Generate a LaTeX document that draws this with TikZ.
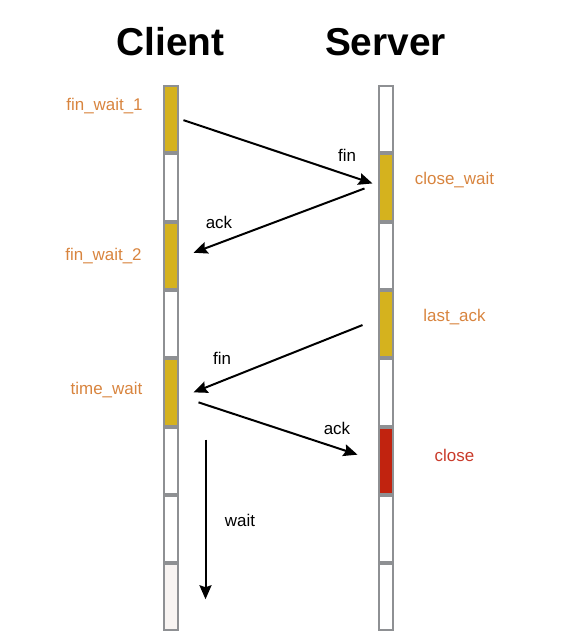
\documentclass[tikz,border=0pt]{standalone}
\usepackage{fontspec}
\setmainfont{Liberation Sans}
\usetikzlibrary{positioning,calc,arrows.meta}
\definecolor{segyel}{HTML}{D5B21E}
\definecolor{segred}{HTML}{C1230F}
\definecolor{seggry}{HTML}{8E9093}
\definecolor{segpale}{HTML}{F8F4F2}
\definecolor{stateor}{HTML}{D8843E}
\definecolor{statered}{HTML}{C93A2A}

\begin{document}
\begin{tikzpicture}[x=1bp,y=-1bp]

\tikzset{seg/.style={draw=seggry,line width=2bp,rectangle,inner sep=0pt,minimum width=14bp,minimum height=66.3bp},
  msg/.style={-{Stealth[length=14bp,width=12bp,inset=2bp]},line width=2bp,black},
  title/.style={font=\fontsize{39}{44}\selectfont\bfseries,inner sep=0pt},
  state/.style={font=\fontsize{17}{20}\selectfont,text=stateor},
  lbl/.style={font=\fontsize{17}{20}\selectfont}}

\useasboundingbox (0,0) rectangle (588,638);

% columns
\foreach \i/\cf/\sf in {1/segyel/white,2/white/segyel,3/segyel/white,4/white/segyel,5/segyel/white,6/white/segred,7/white/white,8/segpale/white}{
  \node[seg,fill=\cf] (c\i) at (170.5,{85+(\i-0.5)*68.3}) {};
  \node[seg,fill=\sf] (s\i) at (385.5,{85+(\i-0.5)*68.3}) {};
}

\node[title,above=29bp of c1.north] (client) {Client};
\node[title,above=29bp of s1.north] (server) {Server};

% states
\node[state] (fw1) at ($(c1.west)+(-58,-13)$) {fin\_wait\_1};
\node[state] (fw2) at ($(c3.west)+(-59,0)$) {fin\_wait\_2};
\node[state] (tw) at ($(c5.west)+(-56,-2)$) {time\_wait};
\node[state] (cw) at ($(s2.east)+(61,-7)$) {close\_wait};
\node[state] (la) at ($(s4.east)+(61,-7)$) {last\_ack};
\node[state,text=statered] (cl) at ($(s6.east)+(61,-5)$) {close};

% messages
\draw[msg] ($(c1.east)+(5,1)$) -- ($(s2.west)+(-5,-4)$);
\node[lbl] (fin1) at (347,155) {fin};
\draw[msg] ($(s2.west)+(-13,1)$) -- ($(c3.east)+(15,-3)$);
\node[lbl] (ack1) at (219,222) {ack};
\draw[msg] ($(s4.west)+(-15,1)$) -- ($(c5.east)+(15,0)$);
\node[lbl] (fin2) at (222,358) {fin};
\draw[msg] ($(c5.east)+(20,10)$) -- ($(s6.west)+(-20,-6)$);
\node[lbl] (ack2) at (337,428) {ack};

\draw[msg] ($(c6.east)+(27,-21)$) -- ($(c8.east)+(27,2)$);
\node[lbl] (wt) at (240,520) {wait};
\end{tikzpicture}
\end{document}
